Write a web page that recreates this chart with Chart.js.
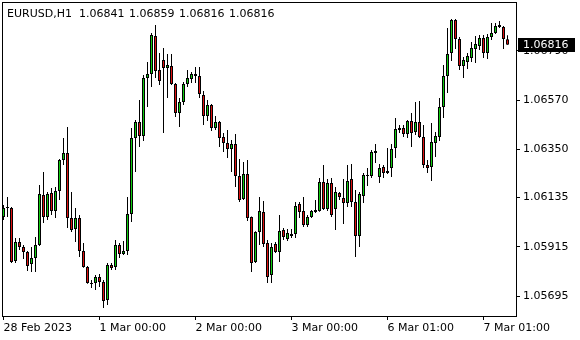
<!DOCTYPE html>
<html>
<head>
<meta charset="utf-8">
<title>EURUSD H1</title>
<script src="https://cdn.jsdelivr.net/npm/chart.js@4.4.1/dist/chart.umd.min.js"></script>
<style>
  html, body { margin: 0; padding: 0; background: #fff; }
  #chart { display: block; }
</style>
</head>
<body>
<canvas id="chart" width="580" height="340"></canvas>
<script>
const symbol = 'EURUSD,H1';

// one entry per H1 bar, 28 Feb 00:00 .. 7 Mar 06:00
const opens = [
  1.06048, 1.06088, 1.06088, 1.05852, 1.05937, 1.05914, 1.05892, 1.05839, 1.05865, 1.05923,
  1.06146, 1.06048, 1.06155, 1.06075, 1.06164, 1.06302, 1.06334, 1.06044, 1.05995, 1.06044,
  1.05897, 1.05825, 1.05754, 1.05754, 1.05781, 1.05758, 1.05678, 1.05834, 1.05825, 1.05923,
  1.05883, 1.05897, 1.06062, 1.06401, 1.06472, 1.06409, 1.06668, 1.06686, 1.06855, 1.06704,
  1.06748, 1.06713, 1.06722, 1.06641, 1.06512, 1.06561, 1.06641, 1.06664, 1.06677, 1.06677,
  1.06592, 1.06499, 1.06548, 1.06445, 1.06472, 1.06405, 1.06378, 1.06352, 1.06374, 1.06231,
  1.06128, 1.06240, 1.06048, 1.05847, 1.05981, 1.06070, 1.05932, 1.05790, 1.05928, 1.05892,
  1.05990, 1.05950, 1.05972, 1.05972, 1.06106, 1.06075, 1.06012, 1.06048, 1.06070, 1.06075,
  1.06204, 1.06084, 1.06200, 1.06084, 1.06155, 1.06133, 1.06111, 1.06218, 1.06115, 1.05963,
  1.06142, 1.06231, 1.06231, 1.06334, 1.06227, 1.06271, 1.06244, 1.06267, 1.06356, 1.06436,
  1.06445, 1.06418, 1.06476, 1.06427, 1.06472, 1.06405, 1.06280, 1.06271, 1.06378, 1.06405,
  1.06539, 1.06677, 1.06780, 1.06927, 1.06842, 1.06722, 1.06740, 1.06757, 1.06797, 1.06811,
  1.06847, 1.06780, 1.06851, 1.06869, 1.06905, 1.06896, 1.06841
];
const highs = [
  1.06102, 1.06137, 1.06093, 1.05955, 1.05955, 1.05923, 1.05897, 1.05914, 1.05959, 1.06191,
  1.06249, 1.06160, 1.06178, 1.06182, 1.06307, 1.06401, 1.06450, 1.06160, 1.06088, 1.06057,
  1.05932, 1.05830, 1.05767, 1.05790, 1.05794, 1.05767, 1.05843, 1.05843, 1.05946, 1.05932,
  1.05941, 1.06137, 1.06445, 1.06481, 1.06570, 1.06682, 1.06740, 1.06869, 1.06905, 1.06780,
  1.06802, 1.06775, 1.06775, 1.06646, 1.06579, 1.06650, 1.06704, 1.06695, 1.06717, 1.06717,
  1.06610, 1.06570, 1.06552, 1.06499, 1.06476, 1.06423, 1.06436, 1.06392, 1.06418, 1.06307,
  1.06294, 1.06302, 1.06050, 1.05985, 1.06137, 1.06120, 1.05946, 1.05932, 1.05937, 1.06057,
  1.05999, 1.05995, 1.05995, 1.06115, 1.06115, 1.06137, 1.06057, 1.06079, 1.06124, 1.06222,
  1.06280, 1.06218, 1.06222, 1.06182, 1.06160, 1.06218, 1.06280, 1.06285, 1.06169, 1.06160,
  1.06244, 1.06267, 1.06347, 1.06374, 1.06285, 1.06280, 1.06356, 1.06374, 1.06490, 1.06459,
  1.06459, 1.06481, 1.06512, 1.06561, 1.06566, 1.06459, 1.06302, 1.06467, 1.06427, 1.06579,
  1.06726, 1.06891, 1.06931, 1.06931, 1.06851, 1.06762, 1.06780, 1.06829, 1.06855, 1.06860,
  1.06860, 1.06864, 1.06913, 1.06913, 1.06922, 1.06900, 1.06859
];
const lows = [
  1.06035, 1.06048, 1.05843, 1.05843, 1.05901, 1.05861, 1.05807, 1.05803, 1.05803, 1.05919,
  1.06021, 1.06035, 1.06057, 1.06044, 1.06124, 1.06280, 1.05999, 1.05981, 1.05937, 1.05870,
  1.05822, 1.05750, 1.05732, 1.05723, 1.05736, 1.05642, 1.05656, 1.05812, 1.05812, 1.05865,
  1.05879, 1.05879, 1.06026, 1.06249, 1.06360, 1.06387, 1.06539, 1.06628, 1.06668, 1.06637,
  1.06423, 1.06579, 1.06637, 1.06494, 1.06450, 1.06548, 1.06628, 1.06646, 1.06646, 1.06579,
  1.06459, 1.06476, 1.06432, 1.06436, 1.06360, 1.06338, 1.06311, 1.06249, 1.06182, 1.06115,
  1.06124, 1.06030, 1.05803, 1.05843, 1.05923, 1.05914, 1.05754, 1.05754, 1.05888, 1.05847,
  1.05946, 1.05941, 1.05955, 1.05955, 1.06044, 1.06004, 1.06004, 1.06044, 1.06066, 1.06072,
  1.06079, 1.06075, 1.06048, 1.05990, 1.06124, 1.06017, 1.06093, 1.06093, 1.05870, 1.05914,
  1.06111, 1.06186, 1.06222, 1.06289, 1.06200, 1.06222, 1.06240, 1.06227, 1.06311, 1.06423,
  1.06405, 1.06401, 1.06360, 1.06414, 1.06401, 1.06267, 1.06244, 1.06209, 1.06316, 1.06387,
  1.06490, 1.06601, 1.06744, 1.06797, 1.06704, 1.06668, 1.06708, 1.06740, 1.06735, 1.06793,
  1.06757, 1.06753, 1.06838, 1.06864, 1.06891, 1.06797, 1.06816
];
const closes = [
  1.06088, 1.06089, 1.05847, 1.05937, 1.05914, 1.05892, 1.05830, 1.05865, 1.05923, 1.06151,
  1.06048, 1.06151, 1.06075, 1.06164, 1.06302, 1.06334, 1.06044, 1.05990, 1.06044, 1.05897,
  1.05825, 1.05754, 1.05749, 1.05781, 1.05758, 1.05674, 1.05834, 1.05821, 1.05923, 1.05883,
  1.05897, 1.06062, 1.06401, 1.06472, 1.06409, 1.06668, 1.06686, 1.06860, 1.06699, 1.06655,
  1.06713, 1.06726, 1.06641, 1.06512, 1.06561, 1.06641, 1.06668, 1.06686, 1.06686, 1.06597,
  1.06499, 1.06548, 1.06445, 1.06472, 1.06401, 1.06378, 1.06352, 1.06374, 1.06231, 1.06124,
  1.06240, 1.06044, 1.05843, 1.05981, 1.06075, 1.05928, 1.05781, 1.05914, 1.05892, 1.05986,
  1.05959, 1.05977, 1.05963, 1.06097, 1.06070, 1.06012, 1.06048, 1.06075, 1.06079, 1.06204,
  1.06084, 1.06200, 1.06057, 1.06160, 1.06137, 1.06111, 1.06209, 1.06115, 1.05963, 1.06151,
  1.06236, 1.06236, 1.06338, 1.06343, 1.06267, 1.06244, 1.06253, 1.06352, 1.06441, 1.06445,
  1.06418, 1.06476, 1.06423, 1.06472, 1.06405, 1.06280, 1.06267, 1.06383, 1.06409, 1.06539,
  1.06677, 1.06775, 1.06927, 1.06842, 1.06722, 1.06748, 1.06766, 1.06802, 1.06820, 1.06847,
  1.06780, 1.06851, 1.06869, 1.06900, 1.06896, 1.06842, 1.06816
];

// time axis labels sit on these bar indexes
const timeTickIdx = [0, 24, 48, 72, 96, 120];
const timeTickText = ['28 Feb 2023', '1 Mar 00:00', '2 Mar 00:00', '3 Mar 00:00', '6 Mar 01:00', '7 Mar 01:00'];
const priceTicks = [1.05695, 1.05915, 1.06135, 1.06350, 1.06570, 1.06790];

const upColor = '#10cc10';
const downColor = '#dd1111';
const fontFamily = '"DejaVu Sans", sans-serif';

Chart.defaults.font.family = fontFamily;
Chart.defaults.font.size = 11;
Chart.defaults.color = '#000';

const last = opens.length - 1;
const bodies = opens.map((o, i) => ({ x: i, y: [o, closes[i]] }));
const wicks = lows.map((l, i) => ({ x: i, y: [l, highs[i]] }));
const bodyColors = opens.map((o, i) => (closes[i] >= o ? upColor : downColor));

// axes must not grow the chart area for their labels, the frame is fixed
function fixBox(size, key) {
  return s => {
    s[key] = size;
    s.paddingLeft = 0;
    s.paddingRight = 0;
    s.paddingTop = 0;
    s.paddingBottom = 0;
  };
}

// frame, OHLC line at top and the black last-price tag on the axis
const overlay = {
  id: 'overlay',
  afterDraw(chart) {
    const ctx = chart.ctx;
    const a = chart.chartArea;
    ctx.save();
    ctx.strokeStyle = '#000';
    ctx.lineWidth = 1;
    ctx.strokeRect(a.left + 0.5, a.top + 0.5, a.right - a.left, a.bottom - a.top);

    ctx.font = '11px ' + fontFamily;
    ctx.fillStyle = '#000';
    ctx.textBaseline = 'alphabetic';
    ctx.fillText(symbol, 7, 17);
    [opens[last], highs[last], lows[last], closes[last]].forEach((v, k) => {
      ctx.fillText(v.toFixed(5), 79 + k * 50, 17);
    });

    const y = Math.round(chart.scales.y.getPixelForValue(closes[last]));
    ctx.fillStyle = '#000';
    ctx.fillRect(a.right + 2, y - 7, 57, 14);
    ctx.fillStyle = '#fff';
    ctx.textBaseline = 'middle';
    ctx.fillText(closes[last].toFixed(5), a.right + 7, y);
    ctx.restore();
  }
};

new Chart(document.getElementById('chart'), {
  type: 'bar',
  data: {
    datasets: [
      {
        label: 'body',
        data: bodies,
        backgroundColor: bodyColors,
        borderColor: '#000',
        borderWidth: 1,
        borderSkipped: false,
        grouped: false,
        categoryPercentage: 1,
        barPercentage: 0.75,
        maxBarThickness: 3,
        minBarLength: 1,
        order: 0
      },
      {
        label: 'wick',
        data: wicks,
        backgroundColor: '#000',
        borderWidth: 0,
        grouped: false,
        categoryPercentage: 1,
        barPercentage: 0.25,
        maxBarThickness: 1,
        minBarLength: 1,
        order: 1
      }
    ]
  },
  options: {
    responsive: false,
    animation: false,
    devicePixelRatio: 1,
    layout: { padding: { left: 2, top: 2, right: 0, bottom: 0 } },
    plugins: {
      legend: { display: false },
      tooltip: { enabled: false }
    },
    scales: {
      x: {
        type: 'linear',
        min: -0.375,
        max: 128.125,
        offset: false,
        border: { display: false },
        grid: { drawOnChartArea: false, drawTicks: true, tickLength: 4, color: '#000', offset: false },
        afterBuildTicks: s => { s.ticks = timeTickIdx.map(v => ({ value: v })); },
        afterFit: fixBox(24, 'height'),
        ticks: {
          align: 'start',
          autoSkip: false,
          maxRotation: 0,
          minRotation: 0,
          padding: 2,
          callback: (v, i) => timeTickText[i]
        }
      },
      y: {
        type: 'linear',
        position: 'right',
        min: 1.056066,
        max: 1.070071,
        beginAtZero: false,
        border: { display: false },
        grid: { drawOnChartArea: false, drawTicks: true, tickLength: 4, color: '#000' },
        afterBuildTicks: s => { s.ticks = priceTicks.map(v => ({ value: v })); },
        afterFit: fixBox(64, 'width'),
        ticks: {
          padding: 3,
          callback: v => v.toFixed(5)
        }
      }
    }
  },
  plugins: [overlay]
});
</script>
</body>
</html>
